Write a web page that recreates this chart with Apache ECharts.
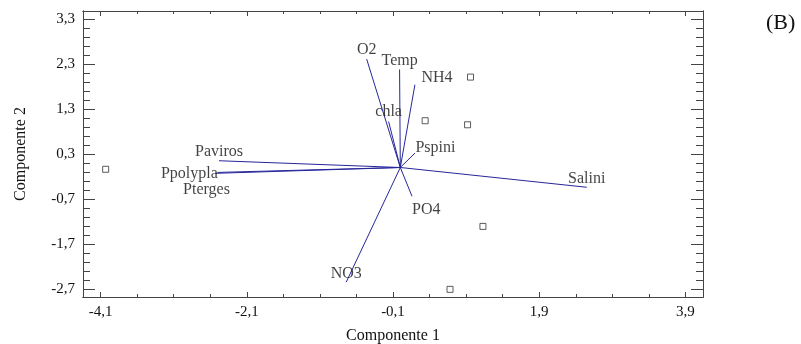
<!DOCTYPE html>
<html>
	<head>
		<meta charset="utf-8" />
		<title>Biplot componentes</title>
		<script type="text/javascript" src="https://cdn.jsdelivr.net/npm/echarts@6/dist/echarts.min.js"></script>
		<style>
			html, body { margin: 0; padding: 0; background: #fff; }
		</style>
	</head>
	<body>
		<div id="main" style="width: 801px;height: 344px;"></div>
	</body>
	<script type="text/javascript">
		// vectores (cargas) - componente 1 y 2
		var vectorNames = ['O2', 'Temp', 'NH4', 'chla', 'Pspini', 'Salini', 'PO4', 'NO3', 'Paviros', 'Ppolypla', 'Pterges'];
		var vectorX = [-0.46, -0.01, 0.20, -0.16, 0.20, 2.55, 0.16, -0.74, -2.48, -2.53, -2.50];
		var vectorY = [2.41, 2.18, 1.84, 1.02, 0.32, -0.44, -0.64, -2.55, 0.15, -0.13, -0.11];

		// muestras (cuadrados)
		var sampleX = [-4.03, 0.96, 0.34, 0.92, 1.13, 0.68];
		var sampleY = [-0.04, 2.01, 1.04, 0.95, -1.31, -2.71];

		// marcas de los ejes
		var xTicks = [-4.1, -2.1, -0.1, 1.9, 3.9];
		var yTicks = [-2.7, -1.7, -0.7, 0.3, 1.3, 2.3, 3.3];

		var X_MIN = -4.34, X_MAX = 4.14;
		var Y_MIN = -2.88, Y_MAX = 3.48;

		// marcas menores
		var xMinor = [];
		for (var i = 0; i <= 16; i++) xMinor.push(Math.round((-4.1 + i * 0.5) * 100) / 100);
		var yMinor = [];
		for (var j = 0; j <= 30; j++) yMinor.push(Math.round((-2.7 + j * 0.2) * 100) / 100);

		var lineColor = '#26269a';
		var axisColor = '#444';
		var serif = '"Liberation Serif", "Times New Roman", serif';

		// posicion de las etiquetas
		var labelPos = {
			'O2': { position: 'top', distance: 1 },
			'Temp': { position: 'top', distance: 0 },
			'NH4': { position: 'right', distance: 6, offset: [0, -7] },
			'chla': { position: 'top', distance: 1 },
			'Pspini': { position: 'right', distance: 0, offset: [0, -5] },
			'Salini': { position: 'top', distance: 0 },
			'PO4': { position: 'bottom', distance: 5, align: 'left' },
			'NO3': { position: 'top', distance: 0 },
			'Paviros': { position: 'top', distance: 0 },
			'Ppolypla': { position: 'left', distance: 0, offset: [3, 0] },
			'Pterges': { position: 'bottom', distance: 3, offset: [-11, 6] }
		};

		function fmt(v) {
			return v.toFixed(1).replace('.', ',');
		}

		function xAxisDef(pos, ticks, len, main) {
			return {
				type: 'value',
				position: pos,
				min: X_MIN,
				max: X_MAX,
				splitLine: { show: false },
				axisLine: { show: true, onZero: false, lineStyle: { color: axisColor, width: 1 } },
				axisTick: { show: true, inside: true, length: len, customValues: ticks, lineStyle: { color: axisColor } },
				axisLabel: main ? {
					customValues: ticks, formatter: fmt, margin: 8,
					fontFamily: serif, fontSize: 15, color: '#111'
				} : { show: false },
				name: main ? 'Componente 1' : '',
				nameLocation: 'middle',
				nameGap: 31,
				nameTextStyle: { fontFamily: serif, fontSize: 16, color: '#111' }
			};
		}

		function yAxisDef(pos, ticks, len, main) {
			return {
				type: 'value',
				position: pos,
				min: Y_MIN,
				max: Y_MAX,
				splitLine: { show: false },
				axisLine: { show: true, onZero: false, lineStyle: { color: axisColor, width: 1 } },
				axisTick: { show: true, inside: true, length: len, customValues: ticks, lineStyle: { color: axisColor } },
				axisLabel: main ? {
					customValues: ticks, formatter: fmt, margin: 8,
					fontFamily: serif, fontSize: 15, color: '#111'
				} : { show: false },
				name: main ? 'Componente 2' : '',
				nameLocation: 'middle',
				nameGap: 54,
				nameRotate: 90,
				nameTextStyle: { fontFamily: serif, fontSize: 16, color: '#111' }
			};
		}

		var chart = echarts.init(document.getElementById('main'), null, { renderer: 'canvas' });

		var option = {
			animation: false,
			backgroundColor: '#fff',
			title: {
				text: '(B)',
				left: 761,
				top: 7,
				textStyle: { fontFamily: serif, fontWeight: 'normal', fontSize: 22, color: '#111' }
			},
			grid: { left: 83, right: 98, top: 11, bottom: 47, outerBoundsMode: 'none' },
			xAxis: [
				xAxisDef('bottom', xTicks, 5, true),
				xAxisDef('bottom', xMinor, 3, false),
				xAxisDef('top', xTicks, 5, false),
				xAxisDef('top', xMinor, 3, false)
			],
			yAxis: [
				yAxisDef('left', yTicks, 12, true),
				yAxisDef('left', yMinor, 7, false),
				yAxisDef('right', yTicks, 12, false),
				yAxisDef('right', yMinor, 7, false)
			],
			series: [{
				type: 'lines',
				coordinateSystem: 'cartesian2d',
				silent: true,
				lineStyle: { color: lineColor, width: 1, opacity: 1 },
				data: vectorNames.map(function(n, i) {
					return { name: n, coords: [[0, 0], [vectorX[i], vectorY[i]]] };
				})
			}, {
				type: 'scatter',
				silent: true,
				symbolSize: 1,
				itemStyle: { color: 'transparent' },
				label: {
					show: true,
					formatter: '{b}',
					fontFamily: serif,
					fontSize: 16,
					color: '#111'
				},
				data: vectorNames.map(function(n, i) {
					return { name: n, value: [vectorX[i], vectorY[i]], label: labelPos[n] };
				})
			}, {
				type: 'scatter',
				silent: true,
				symbol: 'rect',
				symbolSize: 6,
				itemStyle: { color: '#fff', borderColor: '#333', borderWidth: 1 },
				data: sampleX.map(function(x, i) {
					return [x, sampleY[i]];
				})
			}]
		};

		chart.setOption(option);
	</script>
</html>
